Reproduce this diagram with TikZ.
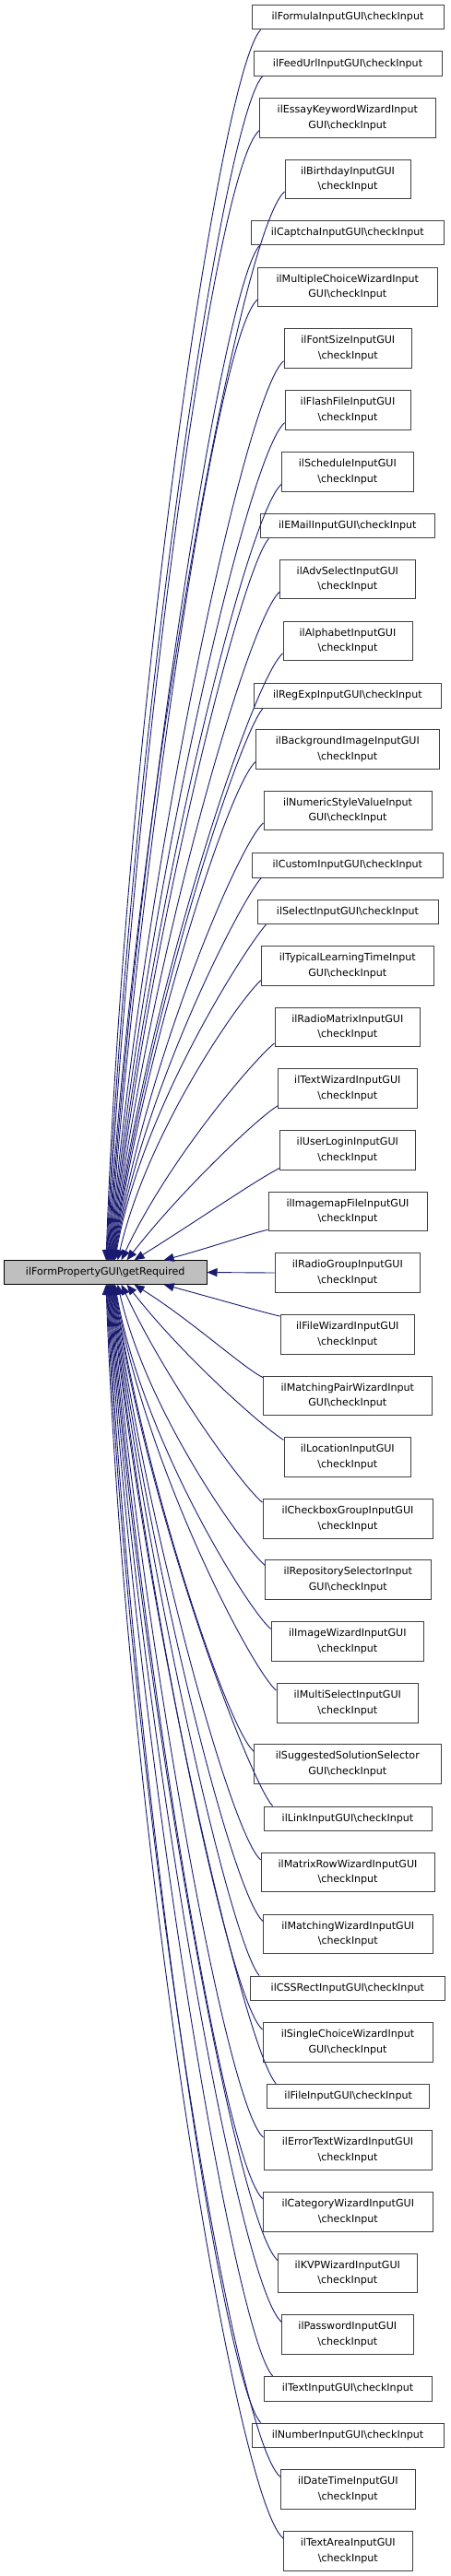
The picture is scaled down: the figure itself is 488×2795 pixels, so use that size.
\documentclass[tikz,border=0pt]{standalone}
\usepackage{fontspec}
\setmainfont{DejaVu Sans}
\usetikzlibrary{arrows.meta,calc}
\definecolor{edgeblue}{RGB}{25,25,112}
\definecolor{boxline}{RGB}{64,64,64}
\newcommand\bsl{\textbackslash{}}
\tikzset{
  fn/.style={draw=boxline, line width=0.9pt, fill=white, align=center, inner sep=0pt,
    font={\fontsize{11.1}{16.7}\selectfont}},
  sgl/.style={fn, minimum height=26.7},
  dbl/.style={fn, minimum height=42.5},
  lnode/.style={fn, draw=black, fill={rgb,255:red,191;green,191;blue,191}, minimum height=25.7},
  edge/.style={draw=edgeblue, line width=0.9pt, -{Triangle[length=11pt,width=9pt]}}
}
\begin{document}
\begin{tikzpicture}[x=1pt,y=1pt]
\fill[white] (0,0) rectangle (488,-2795);
\useasboundingbox (0,0) rectangle (488,-2795);

\node[lnode, minimum width=219.7] (L) at (114.2,-1380.5) {ilFormPropertyGUI\bsl getRequired};

\node[sgl, minimum width=208]   (r1)  at (377,-18.5)   {ilFormulaInputGUI\bsl checkInput};
\node[sgl, minimum width=204]   (r2)  at (377,-69)     {ilFeedUrlInputGUI\bsl checkInput};
\node[dbl, minimum width=190.3] (r3)  at (376.8,-127.8) {ilEssayKeywordWizardInput\\GUI\bsl checkInput};
\node[dbl, minimum width=136]   (r4)  at (377,-194.3)  {ilBirthdayInputGUI\\\bsl checkInput};
\node[sgl, minimum width=209.7] (r5)  at (376.8,-252.5) {ilCaptchaInputGUI\bsl checkInput};
\node[dbl, minimum width=194.3] (r6)  at (376.8,-311.3) {ilMultipleChoiceWizardInput\\GUI\bsl checkInput};
\node[dbl, minimum width=138.7] (r7)  at (377.3,-378)  {ilFontSizeInputGUI\\\bsl checkInput};
\node[dbl, minimum width=136]   (r8)  at (377,-445)    {ilFlashFileInputGUI\\\bsl checkInput};
\node[dbl, minimum width=142.3] (r9)  at (376.8,-511.7) {ilScheduleInputGUI\\\bsl checkInput};
\node[sgl, minimum width=189.7] (r10) at (376.8,-570.5) {ilEMailInputGUI\bsl checkInput};
\node[dbl, minimum width=146.3] (r11) at (376.8,-628.5) {ilAdvSelectInputGUI\\\bsl checkInput};
\node[dbl, minimum width=140]   (r12) at (377,-695.3)  {ilAlphabetInputGUI\\\bsl checkInput};
\node[sgl, minimum width=202.3] (r13) at (376.8,-754.7) {ilRegExpInputGUI\bsl checkInput};
\node[dbl, minimum width=198.3] (r14) at (376.8,-812.8) {ilBackgroundImageInputGUI\\\bsl checkInput};
\node[dbl, minimum width=182]   (r15) at (377,-879.3)  {ilNumericStyleValueInput\\GUI\bsl checkInput};
\node[sgl, minimum width=206.3] (r16) at (376.8,-938.8) {ilCustomInputGUI\bsl checkInput};
\node[sgl, minimum width=196]   (r17) at (377,-989.3)  {ilSelectInputGUI\bsl checkInput};
\node[dbl, minimum width=186.3] (r18) at (376.8,-1047.8) {ilTypicalLearningTimeInput\\GUI\bsl checkInput};
\node[dbl, minimum width=157.7] (r19) at (376.8,-1114.3) {ilRadioMatrixInputGUI\\\bsl checkInput};
\node[dbl, minimum width=150.3] (r20) at (376.8,-1181)  {ilTextWizardInputGUI\\\bsl checkInput};
\node[dbl, minimum width=146.3] (r21) at (376.8,-1247.8) {ilUserLoginInputGUI\\\bsl checkInput};
\node[dbl, minimum width=172]   (r22) at (377,-1314.5)  {ilImagemapFileInputGUI\\\bsl checkInput};
\node[dbl, minimum width=157.7] (r23) at (376.8,-1381)  {ilRadioGroupInputGUI\\\bsl checkInput};
\node[dbl, minimum width=145.7] (r24) at (376.8,-1447.8) {ilFileWizardInputGUI\\\bsl checkInput};
\node[dbl, minimum width=182.3] (r25) at (376.8,-1514.3) {ilMatchingPairWizardInput\\GUI\bsl checkInput};
\node[dbl, minimum width=137.7] (r26) at (376.8,-1581)  {ilLocationInputGUI\\\bsl checkInput};
\node[dbl, minimum width=184]   (r27) at (377,-1647.8)  {ilCheckboxGroupInputGUI\\\bsl checkInput};
\node[dbl, minimum width=179.3] (r28) at (377.3,-1714)  {ilRepositorySelectorInput\\GUI\bsl checkInput};
\node[dbl, minimum width=165.7] (r29) at (376.8,-1781)  {ilImageWizardInputGUI\\\bsl checkInput};
\node[dbl, minimum width=153.7] (r30) at (376.8,-1847.8) {ilMultiSelectInputGUI\\\bsl checkInput};
\node[dbl, minimum width=202.3] (r31) at (376.8,-1914)  {ilSuggestedSolutionSelector\\GUI\bsl checkInput};
\node[sgl, minimum width=182]   (r32) at (377,-1973.3)  {ilLinkInputGUI\bsl checkInput};
\node[dbl, minimum width=188]   (r33) at (377,-2031.5)  {ilMatrixRowWizardInputGUI\\\bsl checkInput};
\node[dbl, minimum width=183.3] (r34) at (377.3,-2098.3) {ilMatchingWizardInputGUI\\\bsl checkInput};
\node[sgl, minimum width=210.3] (r35) at (376.8,-2157.3) {ilCSSRectInputGUI\bsl checkInput};
\node[dbl, minimum width=184]   (r36) at (377,-2215.7)  {ilSingleChoiceWizardInput\\GUI\bsl checkInput};
\node[sgl, minimum width=176]   (r37) at (377.7,-2274.5) {ilFileInputGUI\bsl checkInput};
\node[dbl, minimum width=182]   (r38) at (377,-2332.8)  {ilErrorTextWizardInputGUI\\\bsl checkInput};
\node[dbl, minimum width=183.3] (r39) at (377.3,-2399.7) {ilCategoryWizardInputGUI\\\bsl checkInput};
\node[dbl, minimum width=150.3] (r40) at (376.8,-2466.3) {ilKVPWizardInputGUI\\\bsl checkInput};
\node[dbl, minimum width=142.3] (r41) at (376.8,-2533)  {ilPasswordInputGUI\\\bsl checkInput};
\node[sgl, minimum width=182]   (r42) at (377,-2591.7)  {ilTextInputGUI\bsl checkInput};
\node[sgl, minimum width=208]   (r43) at (377,-2642.3)  {ilNumberInputGUI\bsl checkInput};
\node[dbl, minimum width=146]   (r44) at (377.3,-2701)  {ilDateTimeInputGUI\\\bsl checkInput};
\node[dbl, minimum width=139.3] (r45) at (377.3,-2768)  {ilTextAreaInputGUI\\\bsl checkInput};

% edges from upper nodes into the top of L
\foreach \i/\sx/\sy/\xe/\oa/\ia in {
  22/0/2/178/193/15, 21/0/2/146/205/32, 20/0/3/138/211/52, 19/0/4/132/218/65,
  18/0/6/128/220/77, 17/10/0/125/228/80, 16/10/0/124.4/228/80.5,
  15/0/8/123.8/220/81, 14/0/8/123.2/220/81.5, 13/10/0/122.6/228/82,
  12/0/8/122/220/82.5, 11/0/8/121.4/220/83, 10/10/0/120.8/228/83.5,
  9/0/8/120.2/220/84, 8/0/8/119.6/220/84.5, 7/0/8/119/220/85,
  6/0/8/118.4/220/85.5, 5/10/0/117.8/228/86, 4/0/8/117.2/220/86.5,
  3/0/8/116.6/220/87, 2/10/0/116/228/87.5, 1/10/0/115.4/228/88}
{
  \draw[edge] let \p1=([shift={(\sx,\sy)}]r\i.south west),
                  \p2=([shift={(\xe-4.3,0)}]L.north west),
                  \n1={veclen(\x1-\x2,\y1-\y2)} in
    (\p1) .. controls ($(\p1)+(\oa:{0.04*\n1+15})$) and ($(\p2)+(\ia:{0.42*\n1})$) .. (\p2);
}

% edges from lower nodes into the bottom of L
\foreach \i/\sx/\sy/\xe/\oa/\ia in {
  24/0/-2/178/167/-15, 25/0/-2/146/155/-32, 26/0/-3/138/149/-52, 27/0/-4/132/142/-65,
  28/0/-6/128/140/-77, 29/0/-8/125/140/-80, 30/0/-8/124.4/140/-80.5,
  31/0/-8/123.8/140/-81, 32/10/0/123.2/132/-81.5, 33/0/-8/122.6/140/-82,
  34/0/-8/122/140/-82.5, 35/10/0/121.4/132/-83, 36/0/-8/120.8/140/-83.5,
  37/10/0/120.2/132/-84, 38/0/-8/119.6/140/-84.5, 39/0/-8/119/140/-85,
  40/0/-8/118.4/140/-85.5, 41/0/-8/117.8/140/-86, 42/10/0/117.2/132/-86.5,
  43/10/0/116.6/132/-87, 44/0/-8/116/140/-87.5, 45/0/-8/115.4/140/-88}
{
  \draw[edge] let \p1=([shift={(\sx,\sy)}]r\i.north west),
                  \p2=([shift={(\xe-4.3,0)}]L.south west),
                  \n1={veclen(\x1-\x2,\y1-\y2)} in
    (\p1) .. controls ($(\p1)+(\oa:{0.04*\n1+15})$) and ($(\p2)+(\ia:{0.42*\n1})$) .. (\p2);
}

\draw[edge] (r23.west) -- (L.east);
\end{tikzpicture}
\end{document}
